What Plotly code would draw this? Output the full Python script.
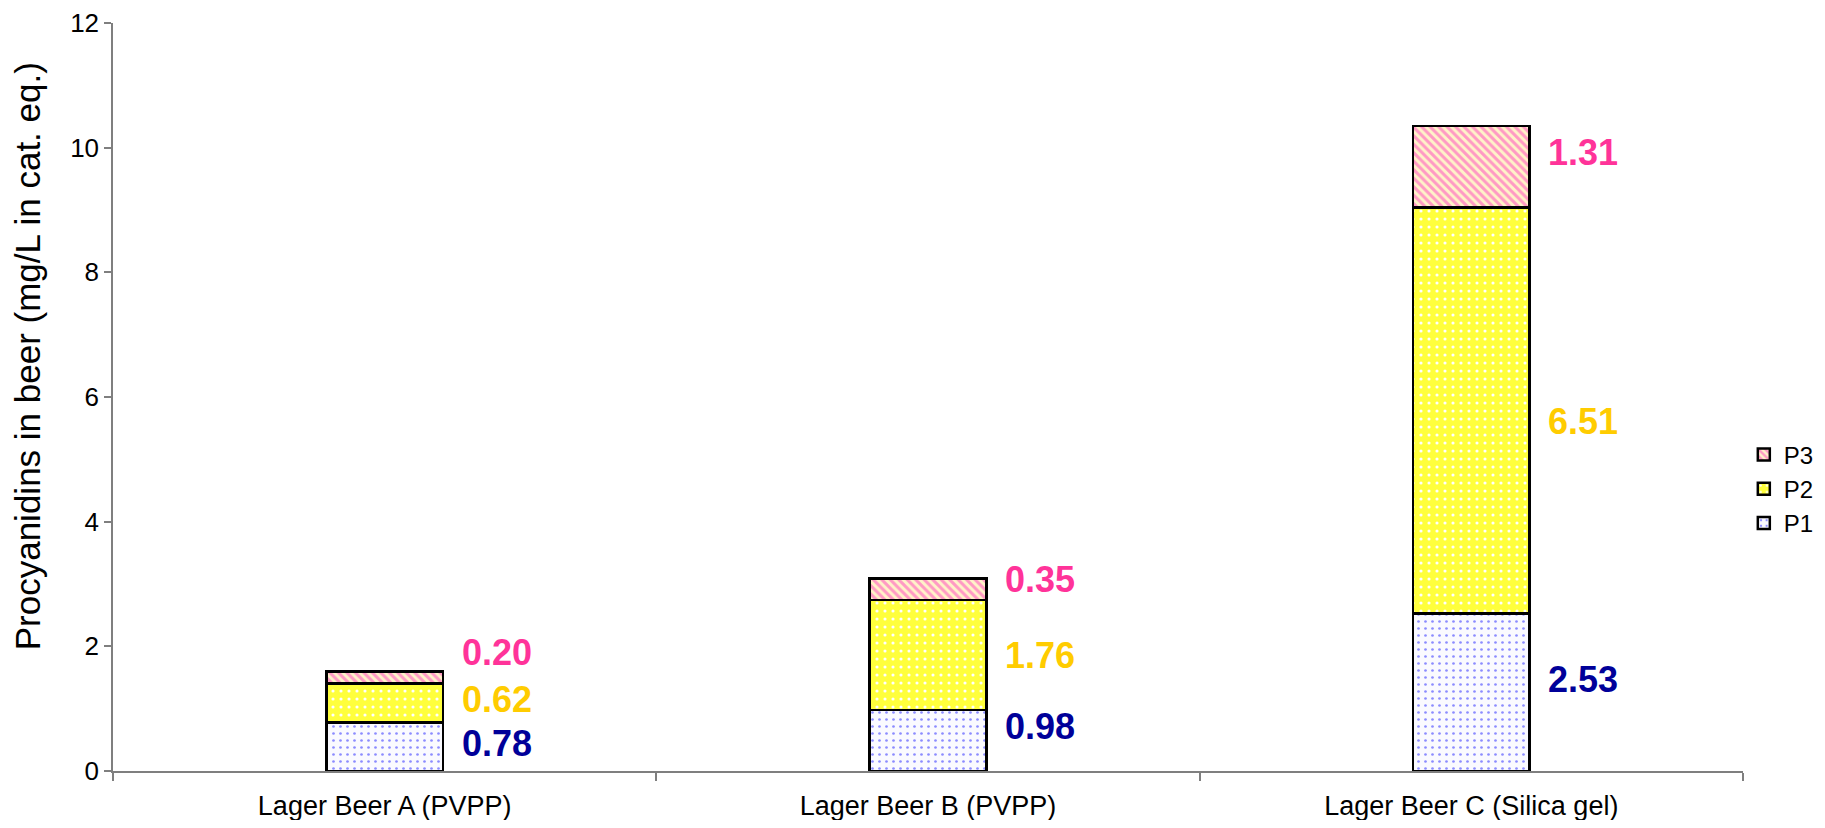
import plotly.graph_objects as go

categories = ["Lager Beer A (PVPP)", "Lager Beer B (PVPP)", "Lager Beer C (Silica gel)"]
p1 = [0.78, 0.98, 2.53]
p2 = [0.62, 1.76, 6.51]
p3 = [0.20, 0.35, 1.31]
series_names = ["P1", "P2", "P3"]
y_ticks = [0, 2, 4, 6, 8, 10, 12]

# vertical placement (data units) of the value labels beside each bar
label_y_p1 = [0.44, 0.72, 1.47]
label_y_p2 = [1.14, 1.86, 5.60]
label_y_p3 = [1.90, 3.08, 9.92]

FONT = "Liberation Sans, Arial, sans-serif"

styles = [
    dict(bg="#FAFAFF", fg="#8C8CFF", shape=".", size=7, solidity=0.12, label="#000099"),
    dict(bg="#FFFF3C", fg="#FFFFFF", shape=".", size=8, solidity=0.12, label="#FFCC00"),
    dict(bg="#FFF3C8", fg="#FF99C4", shape="\\", size=6, solidity=0.5, label="#FF3399"),
]

fig = go.Figure()
for name, vals, st in zip(series_names, [p1, p2, p3], styles):
    fig.add_trace(go.Bar(
        x=categories, y=vals, name=name, width=0.215,
        marker=dict(
            color=st["bg"],
            line=dict(color="#000000", width=2.5),
            pattern=dict(shape=st["shape"], fgcolor=st["fg"], bgcolor=st["bg"],
                         size=st["size"], solidity=st["solidity"], fillmode="replace"),
        ),
        hoverinfo="skip",
    ))

annotations = []
for vals, ys, st in zip([p1, p2, p3], [label_y_p1, label_y_p2, label_y_p3], styles):
    for cat, v, yy in zip(categories, vals, ys):
        annotations.append(dict(
            x=cat, y=yy, xref="x", yref="y", text=f"{v:.2f}", showarrow=False,
            xanchor="left", yanchor="middle", xshift=75,
            font=dict(family=FONT, size=36, color=st["label"], weight="bold"),
        ))

annotations.append(dict(
    x=-0.0525, y=0.555, xref="paper", yref="paper",
    text="Procyanidins in beer (mg/L in cat. eq.)", showarrow=False,
    textangle=-90, xanchor="center", yanchor="middle",
    font=dict(family=FONT, size=35, color="#000000"),
))

fig.update_layout(
    width=1809, height=812,
    margin=dict(l=105, r=74, t=15, b=49, autoexpand=False),
    barmode="stack",
    paper_bgcolor="#FFFFFF", plot_bgcolor="#FFFFFF",
    font=dict(family=FONT, size=27, color="#000000"),
    showlegend=True,
    legend=dict(
        x=1.0005, y=0.377, xanchor="left", yanchor="middle",
        traceorder="reversed", font=dict(family=FONT, size=24, color="#000000"),
        itemwidth=30, tracegroupgap=0, bgcolor="rgba(0,0,0,0)",
    ),
    annotations=annotations,
    xaxis=dict(
        showline=True, linecolor="#7F7F7F", linewidth=1.5,
        ticks="outside", tickson="boundaries", ticklen=8, tickcolor="#7F7F7F", tickwidth=1.5,
        showgrid=False, zeroline=False, automargin=False,
        tickfont=dict(family=FONT, size=27, color="#000000"),
        ticklabelstandoff=10,
    ),
    yaxis=dict(
        range=[0, 12], tickvals=y_ticks, ticktext=[str(t) for t in y_ticks],
        showline=True, linecolor="#7F7F7F", linewidth=1.5,
        ticks="outside", ticklen=7, tickcolor="#7F7F7F", tickwidth=1.5,
        showgrid=False, zeroline=False, automargin=False,
        tickfont=dict(family=FONT, size=26, color="#000000"),
        ticklabelstandoff=0,
    ),
)

fig.write_html("out.html")
